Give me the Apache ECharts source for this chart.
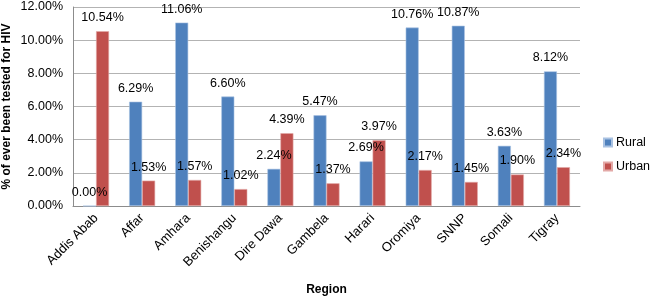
<!DOCTYPE html>
<html>
<head>
<meta charset="utf-8">
<script src="https://cdn.jsdelivr.net/npm/echarts@6/dist/echarts.min.js"></script>
<style>
  html, body { margin: 0; padding: 0; background: #fff; }
  #chart { width: 650px; height: 300px; }
</style>
</head>
<body>
<div id="chart"></div>
<script>
const regions = ['Addis Abab', 'Affar', 'Amhara', 'Benishangu', 'Dire Dawa', 'Gambela', 'Harari', 'Oromiya', 'SNNP', 'Somali', 'Tigray'];
const rural = [0.00, 6.29, 11.06, 6.60, 2.24, 5.47, 2.69, 10.76, 10.87, 3.63, 8.12];
const urban = [10.54, 1.53, 1.57, 1.02, 4.39, 1.37, 3.97, 2.17, 1.45, 1.90, 2.34];

const font = 'Liberation Sans';

const barLabel = {
  show: true,
  position: 'top',
  distance: 7,
  color: '#000',
  fontSize: 12.5,
  fontFamily: font,
  formatter: (p) => p.value.toFixed(2) + '%',
};

const chart = echarts.init(document.getElementById('chart'));

chart.setOption({
  animation: false,
  textStyle: { fontFamily: font },
  grid: {
    left: 73,
    right: 70,
    top: 7,
    bottom: 94,
    outerBoundsMode: 'none',
  },
  legend: {
    orient: 'vertical',
    left: 603,
    top: 136,
    padding: 0,
    itemWidth: 8,
    itemHeight: 8,
    itemGap: 11,
    icon: 'rect',
    textStyle: { fontSize: 12.5, color: '#000', fontFamily: font, padding: [0, 0, 0, -1] },
    data: ['Rural', 'Urban'],
  },
  xAxis: {
    type: 'category',
    data: regions,
    name: 'Region',
    nameLocation: 'middle',
    nameGap: 78,
    nameMoveOverlap: false,
    nameTextStyle: { fontWeight: 'bold', fontSize: 12, color: '#000', fontFamily: font },
    axisLine: { lineStyle: { color: '#8c8c8c' } },
    axisTick: { show: false },
    axisLabel: {
      rotate: 45,
      interval: 0,
      margin: 10,
      fontSize: 13,
      color: '#000',
      fontFamily: font,
    },
  },
  yAxis: {
    type: 'value',
    min: 0,
    max: 12,
    interval: 2,
    name: '% of ever been tested for HIV',
    nameLocation: 'middle',
    nameGap: 60,
    nameMoveOverlap: false,
    nameTextStyle: { fontWeight: 'bold', fontSize: 12, color: '#000', fontFamily: font },
    axisLine: { show: true, lineStyle: { color: '#8c8c8c' } },
    axisTick: { show: false },
    splitLine: { lineStyle: { color: '#b3b3b3' } },
    axisLabel: {
      fontSize: 12.5,
      color: '#000',
      fontFamily: font,
      margin: 10,
      formatter: (v) => v.toFixed(2) + '%',
    },
  },
  series: [
    {
      name: 'Rural',
      type: 'bar',
      data: rural,
      barWidth: 13,
      barGap: '0%',
      itemStyle: { color: '#4f81bd', borderColor: '#a9c2e2', borderWidth: 0.6 },
      label: barLabel,
    },
    {
      name: 'Urban',
      type: 'bar',
      data: urban,
      barWidth: 13,
      itemStyle: { color: '#c0504d', borderColor: '#e3a9a7', borderWidth: 0.6 },
      label: barLabel,
    },
  ],
});
</script>
</body>
</html>
